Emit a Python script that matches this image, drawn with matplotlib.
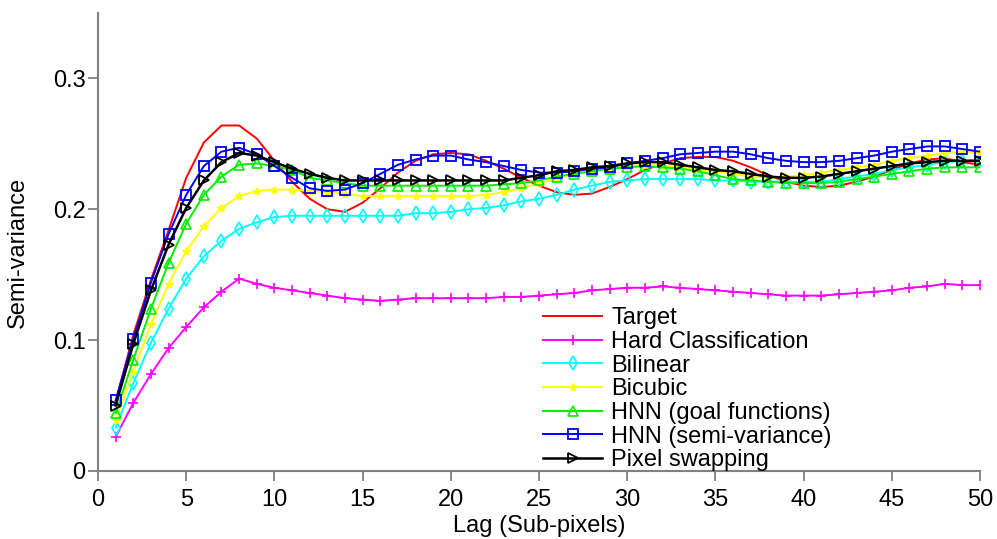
import matplotlib
matplotlib.use("Agg")
import matplotlib.pyplot as plt

lags = list(range(1, 51))

target = [0.053, 0.104, 0.146, 0.184, 0.224, 0.251, 0.264, 0.264, 0.254, 0.237,
          0.221, 0.208, 0.200, 0.198, 0.205, 0.216, 0.228, 0.237, 0.242, 0.243,
          0.242, 0.237, 0.231, 0.224, 0.218, 0.213, 0.211, 0.212, 0.217, 0.223,
          0.230, 0.235, 0.239, 0.240, 0.240, 0.237, 0.232, 0.226, 0.221, 0.218,
          0.217, 0.218, 0.221, 0.225, 0.230, 0.235, 0.238, 0.239, 0.236, 0.234]

hard = [0.026, 0.052, 0.074, 0.094, 0.110, 0.125, 0.137, 0.147, 0.143, 0.140,
        0.138, 0.136, 0.134, 0.132, 0.131, 0.130, 0.131, 0.132, 0.132, 0.132,
        0.132, 0.132, 0.133, 0.133, 0.134, 0.135, 0.136, 0.138, 0.139, 0.140,
        0.140, 0.141, 0.140, 0.139, 0.138, 0.137, 0.136, 0.135, 0.134, 0.134,
        0.134, 0.135, 0.136, 0.137, 0.138, 0.140, 0.141, 0.143, 0.142, 0.142]

bilinear = [0.033, 0.067, 0.098, 0.124, 0.147, 0.164, 0.176, 0.185, 0.190, 0.194,
            0.195, 0.195, 0.195, 0.195, 0.195, 0.195, 0.195, 0.197, 0.197, 0.198,
            0.200, 0.201, 0.203, 0.206, 0.208, 0.211, 0.215, 0.218, 0.221, 0.222,
            0.223, 0.223, 0.223, 0.223, 0.222, 0.222, 0.221, 0.221, 0.221, 0.221,
            0.221, 0.223, 0.225, 0.227, 0.230, 0.232, 0.234, 0.236, 0.237, 0.238]

bicubic = [0.039, 0.076, 0.112, 0.143, 0.168, 0.187, 0.201, 0.210, 0.214, 0.215,
           0.215, 0.214, 0.213, 0.212, 0.210, 0.210, 0.210, 0.210, 0.210, 0.210,
           0.210, 0.211, 0.213, 0.216, 0.220, 0.223, 0.227, 0.230, 0.232, 0.233,
           0.234, 0.233, 0.232, 0.230, 0.229, 0.227, 0.225, 0.224, 0.225, 0.226,
           0.228, 0.230, 0.232, 0.234, 0.237, 0.239, 0.241, 0.243, 0.244, 0.243]

hnn_goal = [0.044, 0.085, 0.124, 0.159, 0.189, 0.211, 0.225, 0.234, 0.235, 0.233,
            0.230, 0.224, 0.222, 0.220, 0.218, 0.218, 0.218, 0.218, 0.218, 0.218,
            0.218, 0.218, 0.219, 0.220, 0.222, 0.225, 0.227, 0.229, 0.231, 0.232,
            0.233, 0.232, 0.231, 0.229, 0.226, 0.223, 0.222, 0.221, 0.220, 0.220,
            0.220, 0.221, 0.223, 0.225, 0.227, 0.229, 0.231, 0.232, 0.232, 0.232]

hnn_semi = [0.054, 0.101, 0.144, 0.181, 0.211, 0.233, 0.244, 0.247, 0.242, 0.233,
            0.224, 0.216, 0.214, 0.215, 0.220, 0.227, 0.234, 0.238, 0.241, 0.241,
            0.238, 0.236, 0.233, 0.230, 0.228, 0.228, 0.229, 0.231, 0.232, 0.235,
            0.237, 0.239, 0.242, 0.243, 0.244, 0.244, 0.242, 0.239, 0.237, 0.236,
            0.236, 0.237, 0.239, 0.241, 0.244, 0.246, 0.248, 0.248, 0.246, 0.244]

pixel_swap = [0.050, 0.097, 0.138, 0.173, 0.201, 0.222, 0.236, 0.243, 0.241, 0.236,
              0.231, 0.227, 0.224, 0.222, 0.222, 0.222, 0.222, 0.222, 0.222, 0.222,
              0.222, 0.222, 0.222, 0.224, 0.226, 0.229, 0.230, 0.232, 0.233, 0.235,
              0.236, 0.236, 0.234, 0.232, 0.230, 0.229, 0.227, 0.225, 0.224, 0.224,
              0.225, 0.227, 0.229, 0.231, 0.233, 0.235, 0.236, 0.237, 0.237, 0.237]

labels = ["Target", "Hard Classification", "Bilinear", "Bicubic",
          "HNN (goal functions)", "HNN (semi-variance)", "Pixel swapping"]
xticks = [0, 5, 10, 15, 20, 25, 30, 35, 40, 45, 50]
yticks = [0, 0.1, 0.2, 0.3]
yticklabels = ["0", "0.1", "0.2", "0.3"]

plt.rcParams['font.family'] = ['Liberation Sans', 'DejaVu Sans']
plt.rcParams['font.size'] = 17

fig = plt.figure(figsize=(9.97, 5.39), dpi=100)
ax = fig.add_axes([0.0983, 0.1262, 0.8847, 0.8498])

ax.plot(lags, target, color='#ff0000', lw=1.4, label=labels[0])
ax.plot(lags, hard, color='#ff00ff', lw=1.4, marker='+', ms=7, mew=1.2, label=labels[1])
ax.plot(lags, bilinear, color='#00ffff', lw=1.4, marker='d', ms=7, mfc='none', mew=1.2, label=labels[2])
ax.plot(lags, bicubic, color='#ffff00', lw=1.4, marker='*', ms=6, label=labels[3])
ax.plot(lags, hnn_goal, color='#00ee00', lw=1.4, marker='^', ms=7, mfc='none', mew=1.2, label=labels[4])
ax.plot(lags, hnn_semi, color='#0000ff', lw=1.4, marker='s', ms=6.5, mfc='none', mew=1.3, label=labels[5])
ax.plot(lags, pixel_swap, color='#000000', lw=1.8, marker='>', ms=7.5, mfc='none', mew=1.3, label=labels[6])

ax.set_xlim(0, 50)
ax.set_ylim(0, 0.35)
ax.set_xticks(xticks)
ax.set_yticks(yticks)
ax.set_yticklabels(yticklabels)

for s in ['top', 'right']:
    ax.spines[s].set_visible(False)
for s in ['left', 'bottom']:
    ax.spines[s].set_color('#808080')
    ax.spines[s].set_linewidth(1.5)
ax.tick_params(axis='both', colors='#808080', labelcolor='black', length=7, width=1.3, pad=2)
ax.tick_params(axis='x', pad=6)

ax.set_xlabel("Lag (Sub-pixels)", labelpad=3)
ax.set_ylabel("Semi-variance")
ax.yaxis.set_label_coords(-0.078, 0.478)

leg = ax.legend(loc='upper left', bbox_to_anchor=(0.5045, 0.357), frameon=False,
                borderpad=0, borderaxespad=0, labelspacing=0.07, handlelength=2.5,
                handletextpad=0.4, fontsize=17)

fig.savefig("out.png", dpi=100)
